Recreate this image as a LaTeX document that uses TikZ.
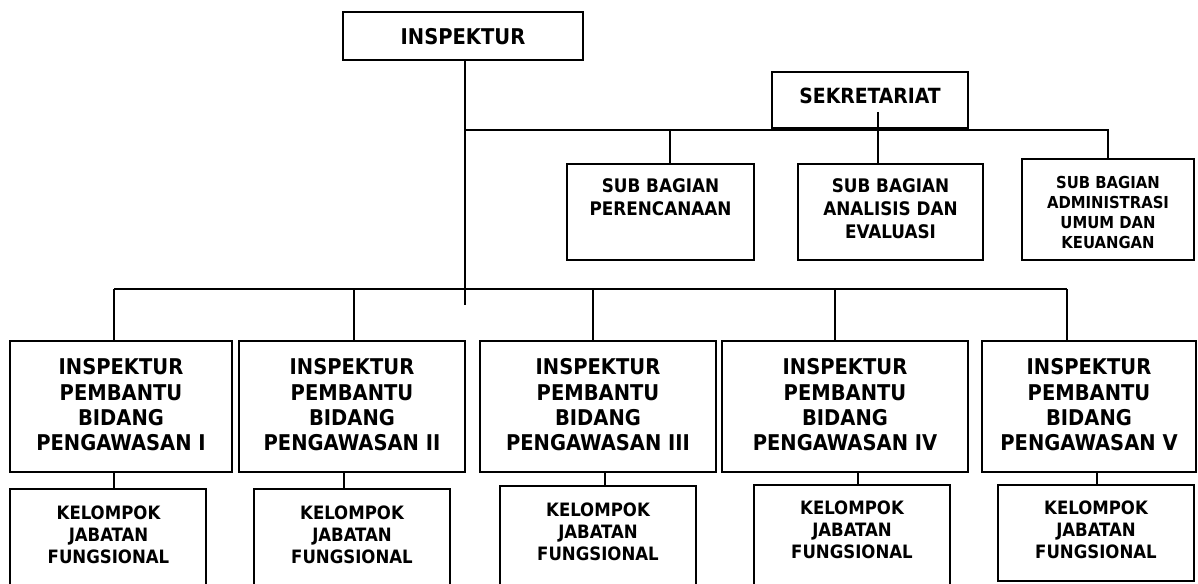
\documentclass[tikz,border=0pt]{standalone}
\usepackage{fontspec}
\setmainfont{DejaVu Sans Condensed}
\begin{document}
\begin{tikzpicture}[x=1pt,y=-1pt,
  boxst/.style={draw=black,line width=1.8pt,inner sep=0pt,fill=white},
  lbl/.style={inner sep=0pt,align=center,text=black},
  big/.style={lbl,font={\fontsize{21.7}{25.3}\selectfont\bfseries}},
  sbf/.style={lbl,font={\fontsize{18.7}{23}\selectfont\bfseries}},
  smf/.style={lbl,font={\fontsize{16.5}{20}\selectfont\bfseries}},
  kf/.style={lbl,font={\fontsize{18.4}{22}\selectfont\bfseries}},
  conn/.style={draw=black,line width=1.7pt}]
\useasboundingbox (0,0) rectangle (1198,583);
\fill[white] (0,0) rectangle (1198,583);
% boxes
\node[boxst,minimum width=240pt,minimum height=48pt] (insp) at (463,36) {};
\node[boxst,minimum width=196pt,minimum height=56pt] (sek) at (870,100) {};
\node[boxst,minimum width=187pt,minimum height=96pt] (sb1) at (660.5,212) {};
\node[boxst,minimum width=185pt,minimum height=96pt] (sb2) at (890.5,212) {};
\node[boxst,minimum width=172pt,minimum height=101pt] (sb3) at (1108,209.5) {};
\node[boxst,minimum width=222pt,minimum height=131pt] (ip1) at (121,406.5) {};
\node[boxst,minimum width=226pt,minimum height=131pt] (ip2) at (352,406.5) {};
\node[boxst,minimum width=236pt,minimum height=131pt] (ip3) at (598,406.5) {};
\node[boxst,minimum width=246pt,minimum height=131pt] (ip4) at (845,406.5) {};
\node[boxst,minimum width=214pt,minimum height=131pt] (ip5) at (1089,406.5) {};
\node[boxst,minimum width=196pt,minimum height=96pt] (k1) at (108,537) {};
\node[boxst,minimum width=196pt,minimum height=96pt] (k2) at (352,537) {};
\node[boxst,minimum width=196pt,minimum height=99pt] (k3) at (598,535.5) {};
\node[boxst,minimum width=196pt,minimum height=100pt] (k4) at (852,535) {};
\node[boxst,minimum width=196pt,minimum height=96pt] (k5) at (1096,533) {};
% labels
\node[big] (inspt) at (463,37) {INSPEKTUR};
\node[lbl,font={\fontsize{20.9}{24}\selectfont\bfseries}] (sekt) at (870,96) {SEKRETARIAT};
\node[sbf] (sb1t) at (660.5,197.5) {SUB BAGIAN\\PERENCANAAN};
\node[sbf] (sb2t) at (890.5,209) {SUB BAGIAN\\ANALISIS DAN\\EVALUASI};
\node[smf] (sb3t) at (1108,212.5) {SUB BAGIAN\\ADMINISTRASI\\UMUM DAN\\KEUANGAN};
\node[big] (ip1t) at (121,405) {INSPEKTUR\\PEMBANTU\\BIDANG\\PENGAWASAN I};
\node[big] (ip2t) at (352,405) {INSPEKTUR\\PEMBANTU\\BIDANG\\PENGAWASAN II};
\node[big] (ip3t) at (598,405) {INSPEKTUR\\PEMBANTU\\BIDANG\\PENGAWASAN III};
\node[big] (ip4t) at (845,405) {INSPEKTUR\\PEMBANTU\\BIDANG\\PENGAWASAN IV};
\node[big] (ip5t) at (1089,405) {INSPEKTUR\\PEMBANTU\\BIDANG\\PENGAWASAN V};
\node[kf] (k1t) at (108.5,535) {KELOMPOK\\JABATAN\\FUNGSIONAL};
\node[kf] (k2t) at (352,535) {KELOMPOK\\JABATAN\\FUNGSIONAL};
\node[kf] (k3t) at (598,531.5) {KELOMPOK\\JABATAN\\FUNGSIONAL};
\node[kf] (k4t) at (852,530) {KELOMPOK\\JABATAN\\FUNGSIONAL};
\node[kf] (k5t) at (1096,530) {KELOMPOK\\JABATAN\\FUNGSIONAL};
% connector coordinates
\coordinate (trunkend) at (465,305);
\coordinate (ub) at (465,130);
\coordinate (ub1) at (670,130);
\coordinate (ube) at (1108,130);
\coordinate (sekin) at (878,112);
\coordinate (lb1) at (114,289);
\coordinate (lb2) at (354,289);
\coordinate (lb3) at (593,289);
\coordinate (lb4) at (835,289);
\coordinate (lb5) at (1067,289);
\coordinate (d1) at (114,0);
\coordinate (d2) at (344,0);
\coordinate (d3) at (605,0);
\coordinate (d4) at (858,0);
\coordinate (d5) at (1097,0);
% connectors
\draw[conn] (insp.south -| trunkend) -- (trunkend);
\draw[conn] (ub) -- (ube) -- (sb3.north);
\draw[conn] (ub1) -- (ub1 |- sb1.north);
\draw[conn] (sekin) -- (sekin |- sb2.north);
\draw[conn] (lb1) -- (lb5);
\draw[conn] (lb1) -- (lb1 |- ip1.north);
\draw[conn] (lb2) -- (lb2 |- ip2.north);
\draw[conn] (lb3) -- (lb3 |- ip3.north);
\draw[conn] (lb4) -- (lb4 |- ip4.north);
\draw[conn] (lb5) -- (lb5 |- ip5.north);
\draw[conn] (d1 |- ip1.south) -- (d1 |- k1.north);
\draw[conn] (d2 |- ip2.south) -- (d2 |- k2.north);
\draw[conn] (d3 |- ip3.south) -- (d3 |- k3.north);
\draw[conn] (d4 |- ip4.south) -- (d4 |- k4.north);
\draw[conn] (d5 |- ip5.south) -- (d5 |- k5.north);
\end{tikzpicture}
\end{document}
